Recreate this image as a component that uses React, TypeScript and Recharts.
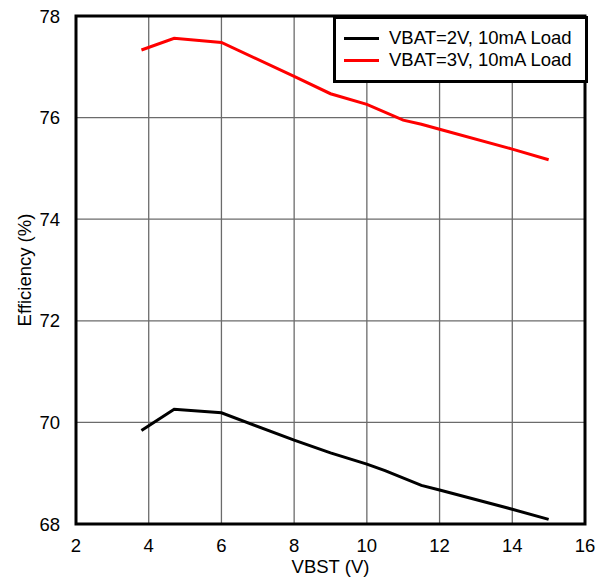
import { LineChart, Line, XAxis, YAxis, CartesianGrid, ReferenceArea } from "recharts";

const vbstLow = [3.8, 4.7, 6, 8, 9, 10, 10.5, 11.5, 12, 14, 15];
const effLow = [69.84, 70.26, 70.19, 69.65, 69.4, 69.18, 69.05, 68.76, 68.67, 68.29, 68.09];

const vbstHigh = [3.8, 4.7, 6, 8, 9, 10, 11, 11.5, 12, 14, 15];
const effHigh = [77.33, 77.56, 77.48, 76.81, 76.47, 76.26, 75.95, 75.87, 75.77, 75.38, 75.17];

const xTicks = [2, 4, 6, 8, 10, 12, 14, 16];
const yTicks = [68, 70, 72, 74, 76, 78];

const seriesNames = ["VBAT=2V, 10mA Load", "VBAT=3V, 10mA Load"];
const seriesColors = ["#000000", "#ff0000"];

const FONT = '"Liberation Sans", Arial, Helvetica, sans-serif';

const lowData = vbstLow.map((x, i) => ({ x, y: effLow[i] }));
const highData = vbstHigh.map((x, i) => ({ x, y: effHigh[i] }));

function LegendBox() {
  return (
    <div
      style={{
        position: "absolute",
        left: 333,
        top: 16,
        width: 249,
        height: 61,
        border: "3px solid #000",
        background: "#fff",
        fontFamily: FONT,
        fontSize: 18.5,
        color: "#000",
      }}
    >
      {seriesNames.map((name, i) => (
        <div key={name} style={{ display: "flex", alignItems: "center", height: 22, marginTop: i === 0 ? 8 : 0 }}>
          <span style={{ display: "inline-block", width: 35, height: 3, background: seriesColors[i], marginLeft: 8, marginRight: 10 }} />
          <span style={{ whiteSpace: "nowrap" }}>{name}</span>
        </div>
      ))}
    </div>
  );
}

export default function App() {
  return (
    <div style={{ position: "absolute", left: 0, top: 0, width: 606, height: 579, background: "#fff" }}>
      <LineChart width={606} height={579} margin={{ top: 16, right: 21, left: 0, bottom: 0 }}>
        <CartesianGrid stroke="#6b6b6b" strokeWidth={1.3} />
        <XAxis
          type="number"
          dataKey="x"
          domain={[2, 16]}
          ticks={xTicks}
          height={55}
          tickLine={false}
          axisLine={false}
          tick={{ fontSize: 18.5, fill: "#000", fontFamily: FONT }}
          tickMargin={9}
          label={{ value: "VBST (V)", position: "insideBottom", offset: 6, fontSize: 18.5, fill: "#000", fontFamily: FONT }}
        />
        <YAxis
          type="number"
          domain={[68, 78]}
          ticks={yTicks}
          width={76}
          tickLine={false}
          axisLine={false}
          tick={{ fontSize: 18.5, fill: "#000", fontFamily: FONT }}
          tickMargin={10}
          label={{ value: "Efficiency (%)", angle: -90, position: "insideLeft", offset: 24, fontSize: 18.5, fill: "#000", fontFamily: FONT, style: { textAnchor: "middle" } }}
        />
        <ReferenceArea x1={2} x2={16} y1={68} y2={78} fill="none" stroke="#000" strokeWidth={3} />
        <Line data={lowData} dataKey="y" name={seriesNames[0]} stroke={seriesColors[0]} strokeWidth={3} dot={false} isAnimationActive={false} />
        <Line data={highData} dataKey="y" name={seriesNames[1]} stroke={seriesColors[1]} strokeWidth={3} dot={false} isAnimationActive={false} />
      </LineChart>
      <LegendBox />
    </div>
  );
}
